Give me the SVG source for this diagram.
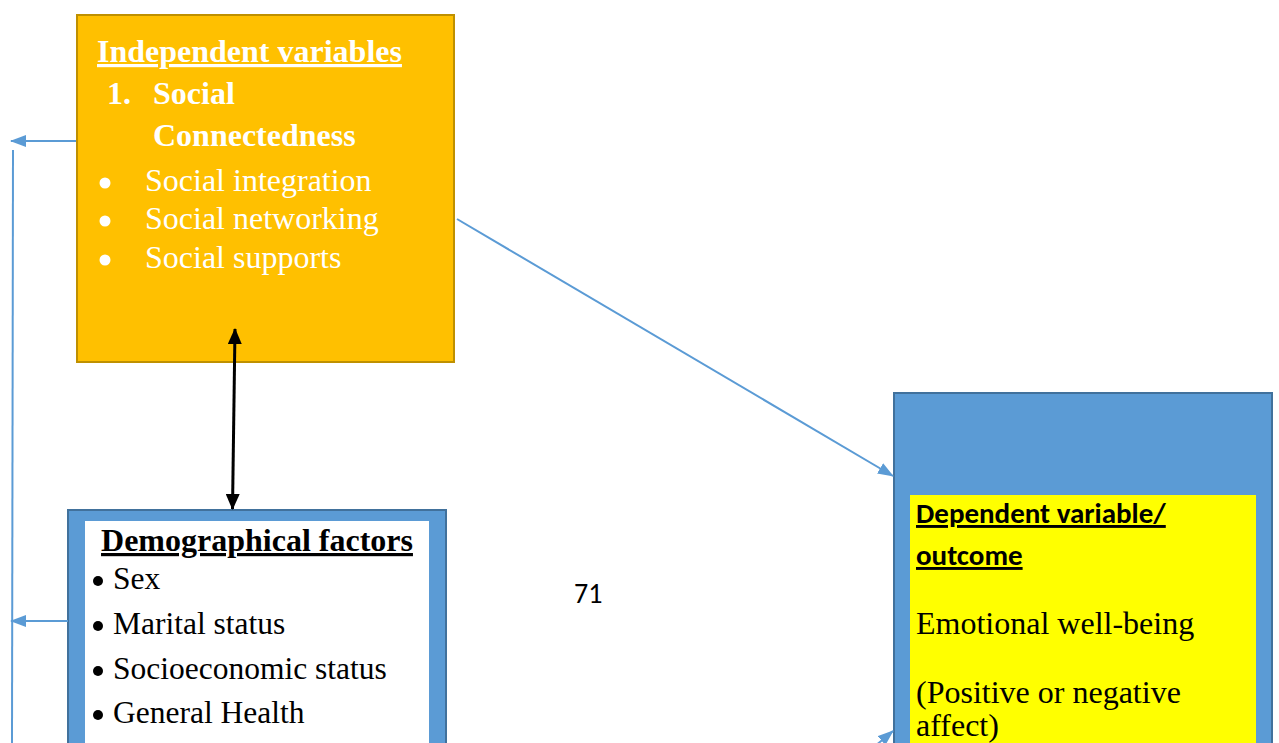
<svg xmlns="http://www.w3.org/2000/svg" width="1279" height="743" viewBox="0 0 1279 743">
<defs>
<style>
.serif{font-family:"Liberation Serif","Times New Roman",serif}
.sans{font-family:"Carlito","Open Sans","Liberation Sans",sans-serif}
.w{fill:#ffffff}
.k{fill:#000000}
.blue{stroke:#5B9BD5;stroke-width:2;fill:none}
</style>
<marker id="abig" viewBox="0 0 16 12" refX="15" refY="6" markerWidth="16" markerHeight="12" markerUnits="userSpaceOnUse" orient="auto"><path d="M0,0L16,6L0,12z" fill="#5B9BD5"/></marker>
<marker id="ak" viewBox="0 0 16 14" refX="15" refY="7" markerWidth="16" markerHeight="14" markerUnits="userSpaceOnUse" orient="auto-start-reverse"><path d="M0,0L16,7L0,14z" fill="#000"/></marker>
</defs>
<rect width="1279" height="743" fill="#fff"/>

<g id="independent">
<rect x="77" y="15" width="377" height="347" fill="#FFC000" stroke="#BF9000" stroke-width="2"/>
<text x="97" y="62" class="serif w" font-size="32" font-weight="bold" text-decoration="underline">Independent variables</text>
<text x="107" y="104" class="serif w" font-size="32" font-weight="bold">1.</text>
<text x="153" y="104" class="serif w" font-size="32" font-weight="bold">Social</text>
<text x="153" y="146" class="serif w" font-size="32" font-weight="bold">Connectedness</text>
<circle cx="105" cy="183" r="5.5" fill="#fff"/>
<circle cx="105" cy="221" r="5.5" fill="#fff"/>
<circle cx="105" cy="260" r="5.5" fill="#fff"/>
<text x="145" y="191" class="serif w" font-size="32">Social integration</text>
<text x="145" y="229" class="serif w" font-size="32">Social networking</text>
<text x="145" y="268" class="serif w" font-size="32">Social supports</text>
</g>

<g id="demographics">
<rect x="68" y="510" width="378" height="250" fill="#5B9BD5" stroke="#41719C" stroke-width="2"/>
<rect x="85" y="521" width="344" height="240" fill="#fff"/>
<text x="257" y="551" class="serif k" font-size="32" font-weight="bold" text-anchor="middle" text-decoration="underline">Demographical factors</text>
<circle cx="98" cy="581" r="5"/>
<circle cx="98" cy="626" r="5"/>
<circle cx="98" cy="671" r="5"/>
<circle cx="98" cy="715" r="5"/>
<text x="113" y="589" class="serif k" font-size="31.5">Sex</text>
<text x="113" y="634" class="serif k" font-size="31.5">Marital status</text>
<text x="113" y="679" class="serif k" font-size="31.5">Socioeconomic status</text>
<text x="113" y="723" class="serif k" font-size="31.5">General Health</text>
</g>

<g id="dependent">
<rect x="894" y="393" width="378" height="370" fill="#5B9BD5" stroke="#41719C" stroke-width="2"/>
<rect x="910" y="495" width="346" height="270" fill="#FFFF00"/>
<text x="916" y="523" class="sans k" font-size="29" font-weight="bold" text-decoration="underline">Dependent variable/</text>
<text x="916" y="565" class="sans k" font-size="29" font-weight="bold" text-decoration="underline">outcome</text>
<text x="916" y="634" class="serif k" font-size="32">Emotional well-being</text>
<text x="916" y="703" class="serif k" font-size="32">(Positive or negative</text>
<text x="916" y="736" class="serif k" font-size="32">affect)</text>
</g>

<g id="connectors">
<line x1="76" y1="141" x2="11" y2="141" class="blue" marker-end="url(#abig)"/>
<line x1="13" y1="150" x2="12" y2="743" class="blue"/>
<line x1="68" y1="621" x2="11" y2="621" class="blue" marker-end="url(#abig)"/>
<line x1="457" y1="219" x2="893" y2="476" class="blue" marker-end="url(#abig)"/>
<line x1="868" y1="752" x2="893" y2="731" class="blue" marker-end="url(#abig)"/>
<line x1="232.5" y1="509" x2="235" y2="329" stroke="#000" stroke-width="3" marker-end="url(#ak)" marker-start="url(#ak)"/>
</g>

<text x="574" y="603" class="sans k" font-size="28">71</text>
</svg>
